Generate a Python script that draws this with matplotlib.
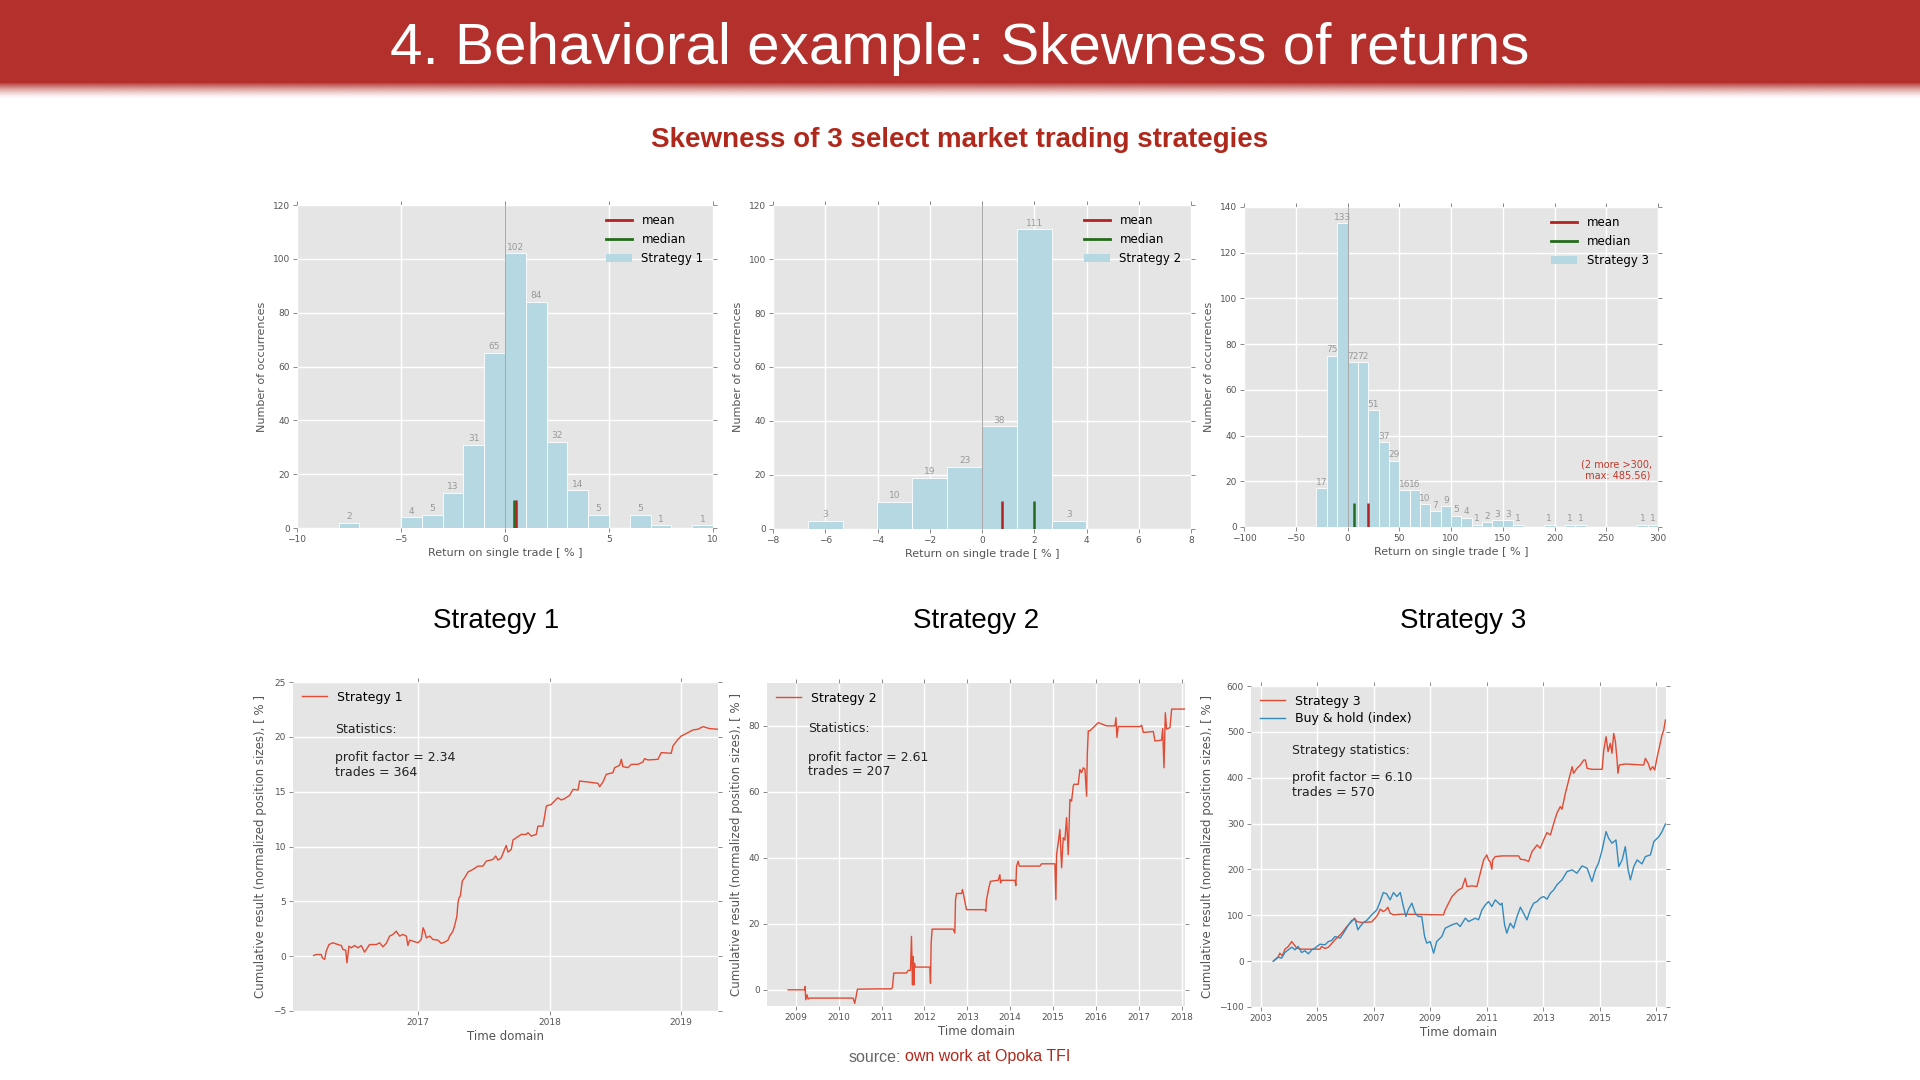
import numpy as np
import matplotlib
matplotlib.use("Agg")
import matplotlib.pyplot as plt
from matplotlib.patches import Rectangle, Patch
from matplotlib.lines import Line2D

# ===== HISTOGRAM DATA (counts per bin) =====
hist1_start, hist1_width = -8.0, 1.0
hist1_counts = [2, 0, 0, 4, 5, 13, 31, 65, 102, 84, 32, 14, 5, 0, 5, 1, 0, 1]
hist1_mean, hist1_median = 0.55, 0.43

hist2_start, hist2_width = -6.667, 1.3333
hist2_counts = [3, 0, 10, 19, 23, 38, 111, 3]
hist2_mean, hist2_median = 0.76, 2.0

hist3_start, hist3_width = -30.0, 10.0
hist3_counts = [17, 75, 133, 72, 72, 51, 37, 29, 16, 16, 10, 7, 9, 5, 4, 1, 2, 3, 3, 1,
                0, 0, 1, 0, 1, 1, 0, 0, 0, 0, 0, 1, 1]
hist3_mean, hist3_median = 19.8, 6.0

# ===== CUMULATIVE RESULT CURVES (decimal year, %) =====
s1_curve = [
    (2016.203, 0.06), (2016.223, 0.15), (2016.261, 0.15), (2016.269, -0.15), (2016.287, -0.30),
    (2016.299, 0.46), (2016.320, 1.06), (2016.350, 1.22), (2016.388, 1.06), (2016.414, 0.97),
    (2016.426, 0.61), (2016.447, 0.55), (2016.457, -0.61), (2016.472, 0.91), (2016.490, 0.76),
    (2016.515, 0.97), (2016.541, 0.76), (2016.566, 0.97), (2016.591, 0.37), (2016.629, 1.06),
    (2016.680, 1.06), (2016.706, 1.22), (2016.731, 0.85), (2016.756, 1.16), (2016.782, 1.83),
    (2016.807, 1.98), (2016.832, 2.28), (2016.858, 1.83), (2016.883, 1.98), (2016.909, 1.83),
    (2016.921, 0.97), (2016.934, 1.46), (2016.959, 1.37), (2016.997, 1.22), (2017.023, 1.52),
    (2017.036, 2.59), (2017.048, 2.28), (2017.061, 1.67), (2017.086, 1.83), (2017.112, 1.52),
    (2017.150, 1.46), (2017.175, 1.16), (2017.201, 1.28), (2017.226, 1.46), (2017.239, 1.83),
    (2017.264, 2.28), (2017.277, 2.80), (2017.294, 3.65), (2017.302, 4.87), (2017.310, 5.32),
    (2017.320, 5.48), (2017.335, 6.85), (2017.353, 7.15), (2017.378, 7.67), (2017.416, 7.91),
    (2017.454, 8.21), (2017.492, 8.21), (2017.518, 8.67), (2017.569, 8.82), (2017.589, 9.13),
    (2017.607, 8.76), (2017.632, 8.97), (2017.657, 9.74), (2017.670, 10.10), (2017.683, 9.49),
    (2017.708, 9.74), (2017.721, 10.59), (2017.746, 10.80), (2017.784, 11.10), (2017.822, 11.10),
    (2017.835, 11.26), (2017.860, 10.95), (2017.898, 11.10), (2017.911, 11.86), (2017.949, 11.86),
    (2017.962, 12.78), (2017.975, 13.69), (2018.013, 13.84), (2018.038, 14.15), (2018.063, 14.45),
    (2018.089, 14.24), (2018.114, 14.36), (2018.152, 14.66), (2018.178, 15.21), (2018.216, 15.15),
    (2018.228, 15.97), (2018.292, 15.88), (2018.368, 15.76), (2018.381, 15.45), (2018.406, 15.88),
    (2018.431, 16.58), (2018.482, 16.73), (2018.495, 17.19), (2018.533, 17.40), (2018.546, 17.95),
    (2018.558, 17.28), (2018.596, 17.19), (2018.622, 17.49), (2018.673, 17.49), (2018.711, 17.71),
    (2018.723, 18.01), (2018.749, 17.89), (2018.825, 17.95), (2018.850, 18.56), (2018.926, 18.50),
    (2018.939, 19.17), (2018.977, 19.77), (2019.003, 20.08), (2019.053, 20.38), (2019.091, 20.63),
    (2019.129, 20.69), (2019.168, 20.93), (2019.218, 20.75), (2019.282, 20.69),
]

s2_curve = [
    (2008.821, 0.0), (2009.210, 0.0), (2009.218, 1.0), (2009.233, -3.0), (2009.264, -1.5),
    (2009.288, -2.8), (2009.327, -2.5), (2010.337, -2.5), (2010.376, -4.1), (2010.415, -1.5),
    (2010.439, 0.2), (2010.960, 0.3), (2011.232, 0.3), (2011.255, 0.8), (2011.286, 5.1),
    (2011.582, 5.1), (2011.621, 5.9), (2011.675, 5.9), (2011.698, 16.2), (2011.722, 1.5),
    (2011.737, 10.1), (2011.753, 1.5), (2011.768, 8.1), (2011.784, 6.9), (2012.126, 6.9),
    (2012.142, 2.0), (2012.157, 14.2), (2012.180, 18.4), (2012.670, 18.4), (2012.709, 17.2),
    (2012.725, 27.3), (2012.748, 29.2), (2012.865, 29.2), (2012.888, 30.4), (2012.919, 28.4),
    (2012.950, 26.3), (2012.981, 24.3), (2013.409, 24.3), (2013.432, 23.8), (2013.448, 27.3),
    (2013.510, 31.4), (2013.541, 32.9), (2013.720, 33.2), (2013.759, 34.9), (2013.774, 32.4),
    (2013.798, 33.2), (2014.109, 33.2), (2014.132, 31.6), (2014.148, 37.5), (2014.187, 39.0),
    (2014.210, 37.5), (2014.692, 37.5), (2014.731, 38.2), (2015.042, 38.2), (2015.065, 27.3),
    (2015.081, 41.0), (2015.120, 44.6), (2015.159, 48.6), (2015.198, 37.0), (2015.236, 46.1),
    (2015.275, 45.4), (2015.314, 52.2), (2015.353, 41.0), (2015.392, 57.7), (2015.431, 57.2),
    (2015.470, 61.8), (2015.485, 62.3), (2015.586, 62.3), (2015.625, 66.8), (2015.664, 65.8),
    (2015.703, 67.3), (2015.742, 66.8), (2015.781, 58.7), (2015.796, 70.9), (2015.820, 78.5),
    (2015.858, 78.5), (2015.936, 79.5), (2016.053, 81.0), (2016.247, 80.0), (2016.442, 80.0),
    (2016.465, 82.5), (2016.488, 76.5), (2016.519, 79.8), (2017.025, 79.8), (2017.064, 80.2),
    (2017.103, 78.0), (2017.336, 78.3), (2017.375, 75.4), (2017.530, 75.7), (2017.554, 79.2),
    (2017.585, 67.3), (2017.616, 84.0), (2017.647, 79.0), (2017.725, 79.5), (2017.764, 85.1),
    (2018.075, 85.1),
]

s3_curve = [
    (2003.45, 0.0), (2003.63, 10.2), (2003.68, 17.4), (2003.77, 11.6), (2003.86, 26.1),
    (2003.98, 32.0), (2004.10, 42.8), (2004.19, 35.6), (2004.28, 28.3), (2004.45, 26.1),
    (2004.92, 26.1), (2005.10, 26.1), (2005.16, 32.0), (2005.28, 27.6), (2005.40, 30.5),
    (2005.63, 46.5), (2005.75, 53.7), (2005.87, 61.0), (2006.05, 75.5), (2006.22, 86.4),
    (2006.32, 93.7), (2006.40, 86.4), (2006.58, 84.2), (2006.93, 85.7), (2007.05, 93.7),
    (2007.14, 100.9), (2007.23, 113.3), (2007.34, 108.2), (2007.43, 111.8), (2007.50, 117.6),
    (2007.58, 104.6), (2007.70, 100.9), (2007.99, 102.4), (2009.47, 100.9), (2009.53, 111.8),
    (2009.65, 126.4), (2009.77, 140.9), (2009.88, 148.1), (2010.00, 155.4), (2010.12, 159.0),
    (2010.24, 180.8), (2010.30, 162.7), (2010.47, 164.1), (2010.65, 162.7), (2010.77, 191.7),
    (2010.89, 220.8), (2011.00, 231.7), (2011.06, 220.8), (2011.12, 217.1), (2011.18, 200.4),
    (2011.21, 220.8), (2011.30, 228.0), (2011.54, 229.5), (2012.13, 229.5), (2012.19, 222.2),
    (2012.36, 220.8), (2012.48, 217.1), (2012.60, 238.9), (2012.78, 253.4), (2012.89, 246.2),
    (2013.01, 264.3), (2013.13, 280.3), (2013.25, 275.2), (2013.37, 300.7), (2013.48, 322.4),
    (2013.60, 337.0), (2013.66, 331.2), (2013.78, 366.0), (2013.87, 387.8), (2013.96, 409.6),
    (2014.02, 424.1), (2014.07, 409.6), (2014.19, 420.5), (2014.31, 427.7), (2014.43, 438.6),
    (2014.49, 438.6), (2014.55, 420.5), (2014.72, 418.3), (2015.08, 418.3), (2015.14, 460.4),
    (2015.22, 489.5), (2015.29, 456.8), (2015.37, 474.9), (2015.43, 453.2), (2015.49, 496.7),
    (2015.55, 478.6), (2015.61, 438.6), (2015.64, 409.6), (2015.69, 427.7), (2015.90, 429.9),
    (2016.55, 427.7), (2016.61, 442.3), (2016.71, 431.4), (2016.79, 416.8), (2016.87, 424.1),
    (2016.94, 416.8), (2017.03, 445.9), (2017.11, 467.7), (2017.20, 493.1), (2017.26, 504.0),
    (2017.32, 525.8),
]

index_curve = [
    (2003.45, 0.0), (2003.63, 8.7), (2003.74, 6.5), (2003.86, 18.9), (2003.98, 24.7),
    (2004.10, 30.5), (2004.22, 24.7), (2004.33, 32.0), (2004.45, 18.9), (2004.57, 22.5),
    (2004.69, 16.0), (2004.81, 24.7), (2004.92, 28.3), (2005.10, 37.0), (2005.28, 35.6),
    (2005.40, 42.8), (2005.51, 45.0), (2005.63, 53.7), (2005.81, 50.1), (2005.93, 61.0),
    (2006.11, 79.2), (2006.22, 88.6), (2006.34, 91.5), (2006.44, 68.3), (2006.52, 75.5),
    (2006.64, 84.2), (2006.75, 88.6), (2006.93, 100.9), (2007.11, 111.8), (2007.23, 130.0),
    (2007.34, 149.6), (2007.46, 146.7), (2007.58, 133.6), (2007.70, 149.6), (2007.82, 140.9),
    (2007.94, 149.6), (2008.05, 119.1), (2008.14, 97.3), (2008.23, 113.3), (2008.35, 126.4),
    (2008.47, 104.6), (2008.58, 97.3), (2008.70, 97.3), (2008.80, 53.7), (2008.88, 39.2),
    (2009.00, 42.8), (2009.12, 17.4), (2009.23, 42.8), (2009.41, 53.7), (2009.53, 71.9),
    (2009.77, 79.2), (2009.94, 82.8), (2010.06, 75.5), (2010.24, 93.7), (2010.36, 86.4),
    (2010.59, 93.7), (2010.71, 90.1), (2010.83, 111.8), (2010.95, 122.7), (2011.06, 130.0),
    (2011.18, 119.1), (2011.30, 133.6), (2011.48, 122.7), (2011.54, 126.4), (2011.63, 79.2),
    (2011.71, 61.0), (2011.83, 82.8), (2011.95, 71.9), (2012.07, 97.3), (2012.19, 117.6),
    (2012.30, 104.6), (2012.42, 90.1), (2012.54, 111.8), (2012.66, 126.4), (2012.78, 130.0),
    (2012.89, 137.3), (2013.01, 140.9), (2013.13, 135.1), (2013.25, 148.1), (2013.37, 155.4),
    (2013.48, 166.3), (2013.66, 177.2), (2013.84, 195.4), (2014.02, 199.0), (2014.19, 191.7),
    (2014.37, 207.7), (2014.55, 202.6), (2014.72, 173.6), (2014.84, 199.0), (2014.96, 215.0),
    (2015.08, 242.6), (2015.22, 282.5), (2015.31, 268.0), (2015.43, 257.1), (2015.57, 264.3),
    (2015.67, 206.2), (2015.79, 220.8), (2015.90, 249.8), (2016.00, 199.0), (2016.08, 177.2),
    (2016.20, 206.2), (2016.32, 220.8), (2016.49, 212.1), (2016.61, 228.0), (2016.79, 231.7),
    (2016.91, 260.7), (2017.09, 271.6), (2017.20, 282.5), (2017.32, 299.2),
]

stats = [("2.34", "364"), ("2.61", "207"), ("6.10", "570")]

# ===== COLORS / STYLE =====
SLIDE_RED = "#b3302c"
TEXT_RED = "#b0281c"
BAR_BLUE = "#b6d8e3"
LINE_RED = "#e24a33"
LINE_BLUE = "#348abd"
GRAY = "#555555"
SLIDE_FONT = ["Liberation Sans", "DejaVu Sans"]

plt.rcParams["font.family"] = "DejaVu Sans"

fig = plt.figure(figsize=(19.2, 10.8), dpi=100)
fig.patch.set_facecolor("white")


def fx(px):
    return px / 1920.0


def fy(py):
    return 1 - py / 1080.0


# ===== SLIDE BACKGROUND: red header band with fade =====
bg = fig.add_axes([0, 0, 1, 1], zorder=-5)
bg.axis("off")
grad = np.zeros((40, 1, 4))
grad[..., 0] = 0xb3 / 255
grad[..., 1] = 0x30 / 255
grad[..., 2] = 0x2c / 255
grad[:, 0, 3] = np.linspace(1, 0, 40) ** 1.5
bg.imshow(grad, extent=[0, 1920, 99, 82], aspect="auto", interpolation="bilinear")
bg.add_patch(Rectangle((0, 0), 1920, 83, color=SLIDE_RED, lw=0))
bg.set_xlim(0, 1920)
bg.set_ylim(1080, 0)

fig.text(0.5, fy(49), "4. Behavioral example: Skewness of returns", color="white",
         fontsize=42, ha="center", va="center", family=SLIDE_FONT)
fig.text(0.5, fy(140), "Skewness of 3 select market trading strategies", color=TEXT_RED,
         fontsize=20, fontweight="bold", ha="center", va="center", family=SLIDE_FONT)
for label, cx in zip(["Strategy 1", "Strategy 2", "Strategy 3"], [496, 976, 1463]):
    fig.text(fx(cx), fy(621), label, color="black", fontsize=20,
             ha="center", va="center", family=SLIDE_FONT)
fig.text(fx(901), fy(1057), "source:", color="#666666", fontsize=11.5,
         ha="right", va="center", family=SLIDE_FONT)
fig.text(fx(905), fy(1057), "own work at Opoka TFI", color=TEXT_RED, fontsize=11.5,
         ha="left", va="center", family=SLIDE_FONT)


def style_axes(ax):
    ax.set_facecolor("#e5e5e5")
    ax.grid(True, color="white", lw=1, ls="-")
    ax.set_axisbelow(True)
    for s in ax.spines.values():
        s.set_visible(False)
    ax.tick_params(direction="out", length=3, width=0.6, color="#777777",
                   labelcolor=GRAY, labelsize=6.5, top=True, right=True,
                   labeltop=False, labelright=False, pad=2)


def draw_hist(rect, start, width, counts, mean, median, name, xlim, xticks, ymax):
    ax = fig.add_axes(rect)
    style_axes(ax)
    lefts = start + width * np.arange(len(counts))
    ax.bar(lefts, counts, width=width, align="edge", color=BAR_BLUE,
           edgecolor="white", lw=0.6, zorder=2)
    for x, c in zip(lefts, counts):
        if c > 0:
            ax.text(x + width / 2, c + 0.6, str(c), ha="center", va="bottom",
                    fontsize=6.5, color="#999999", zorder=4)
    ax.axvline(0, color="#aaaaaa", lw=0.8, zorder=3)
    ax.vlines([mean], 0, 10.5, color="firebrick", lw=1.8, zorder=5)
    ax.vlines([median], 0, 10.5, color="#236b1a", lw=1.8, zorder=5)
    handles = [Line2D([], [], color="firebrick", lw=2),
               Line2D([], [], color="#236b1a", lw=2),
               Patch(facecolor=BAR_BLUE, edgecolor="none")]
    ax.legend(handles, ["mean", "median", name], loc="upper right", frameon=False,
              fontsize=8.5, handlelength=2.2, borderaxespad=0.4)
    ax.set_xlim(*xlim)
    ax.set_xticks(xticks)
    ax.set_ylim(0, ymax)
    ax.set_yticks(np.arange(0, ymax + 1, 20))
    ax.set_xlabel("Return on single trade [ % ]", fontsize=8, color=GRAY, labelpad=3)
    ax.set_ylabel("Number of occurrences", fontsize=8, color=GRAY, labelpad=4)
    return ax


draw_hist([fx(297), fy(528), fx(416), 323 / 1080], hist1_start, hist1_width, hist1_counts,
          hist1_mean, hist1_median, "Strategy 1", (-10, 10), [-10, -5, 0, 5, 10], 120)
draw_hist([fx(773), fy(529), fx(418), 324 / 1080], hist2_start, hist2_width, hist2_counts,
          hist2_mean, hist2_median, "Strategy 2", (-8, 8), np.arange(-8, 9, 2), 120)
ax3 = draw_hist([fx(1244), fy(527), fx(414), 320 / 1080], hist3_start, hist3_width,
                hist3_counts, hist3_mean, hist3_median, "Strategy 3", (-100, 300),
                np.arange(-100, 301, 50), 140)
ax3.text(260, 25, "(2 more >300,\n max: 485.56)", color="#c0392b", fontsize=7,
         ha="center", va="center")


def draw_curve(rect, curves, ylim, yticks, xlim, xticks, stat, stat_title, stat_y):
    ax = fig.add_axes(rect)
    style_axes(ax)
    for data, color, label in curves:
        xs, ys = np.array(data).T
        ax.plot(xs, ys, color=color, lw=1.0, label=label)
    ax.legend(loc="upper left", frameon=False, fontsize=9, handlelength=2.0,
              labelspacing=0.35, borderaxespad=0.3)
    ax.set_xlim(*xlim)
    ax.set_xticks(xticks)
    ax.set_xticklabels([str(t) for t in xticks])
    ax.set_ylim(*ylim)
    ax.set_yticks(yticks)
    ax.set_xlabel("Time domain", fontsize=8.5, color=GRAY, labelpad=2)
    ax.set_ylabel("Cumulative result (normalized position sizes), [ % ]",
                  fontsize=8.5, color=GRAY, labelpad=4)
    lines = [stat_title, "profit factor = " + stat[0], "trades = " + stat[1]]
    for txt, yy in zip(lines, stat_y):
        ax.text(0.099, yy, txt, transform=ax.transAxes, fontsize=9,
                color="#222222", ha="left", va="center")
    return ax


draw_curve([fx(293), fy(1011), fx(425), 329 / 1080],
           [(s1_curve, LINE_RED, "Strategy 1")],
           (-5, 25), np.arange(-5, 26, 5), (2016.046, 2019.282), [2017, 2018, 2019],
           stats[0], "Statistics:", [0.857, 0.769, 0.726])
draw_curve([fx(767), fy(1006), fx(418), 323 / 1080],
           [(s2_curve, LINE_RED, "Strategy 2")],
           (-4.9, 93), np.arange(0, 81, 20), (2008.33, 2018.075), list(range(2009, 2019)),
           stats[1], "Statistics:", [0.858, 0.770, 0.727])
draw_curve([fx(1251), fy(1007), fx(415), 321 / 1080],
           [(s3_curve, LINE_RED, "Strategy 3"), (index_curve, LINE_BLUE, "Buy & hold (index)")],
           (-100, 600), np.arange(-100, 601, 100), (2002.66, 2017.34), list(range(2003, 2018, 2)),
           stats[2], "Strategy statistics:", [0.800, 0.714, 0.669])

fig.savefig("out.png", dpi=100, facecolor="white")
